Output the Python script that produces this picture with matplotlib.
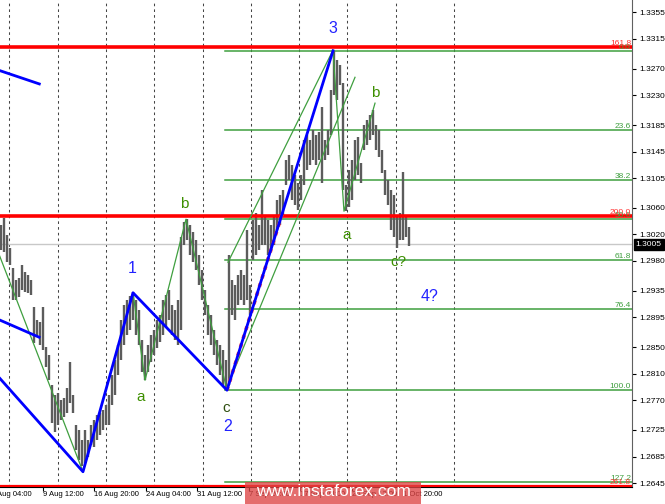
import matplotlib
matplotlib.use('Agg')
import matplotlib.pyplot as plt
from matplotlib.patches import Rectangle
import matplotlib.transforms as mtransforms

plt.rcParams['font.family'] = ['Liberation Sans', 'DejaVu Sans']

# ---- OHLC bar extremes (one bar per index) ----
highs = [1.3034, 1.3045, 1.3019, 1.3000, 1.2969, 1.2951, 1.2954, 1.2974, 1.2963, 1.2959,
         1.2951, 1.2911, 1.2891, 1.2888, 1.2911, 1.2850, 1.2838, 1.2793, 1.2778, 1.2781,
         1.2770, 1.2773, 1.2788, 1.2828, 1.2778, 1.2733, 1.2725, 1.2710, 1.2725, 1.2710,
         1.2733, 1.2740, 1.2748, 1.2751, 1.2755, 1.2763, 1.2778, 1.2808, 1.2831, 1.2853,
         1.2891, 1.2914, 1.2921, 1.2927, 1.2933, 1.2921, 1.2906, 1.2861, 1.2838, 1.2853,
         1.2868, 1.2876, 1.2891, 1.2899, 1.2921, 1.2929, 1.2936, 1.2914, 1.2906, 1.2921,
         1.3016, 1.3039, 1.3043, 1.3034, 1.3024, 1.3012, 1.2989, 1.2966, 1.2936, 1.2914,
         1.2899, 1.2876, 1.2861, 1.2853, 1.2846, 1.2831, 1.2989, 1.2951, 1.2944, 1.2959,
         1.2966, 1.2959, 1.3027, 1.2944, 1.3042, 1.3052, 1.3034, 1.3087, 1.3049, 1.3042,
         1.3034, 1.3049, 1.3072, 1.3079, 1.3087, 1.3132, 1.3140, 1.3125, 1.3110, 1.3098,
         1.3110, 1.3162, 1.3170, 1.3162, 1.3178, 1.3170, 1.3175, 1.3212, 1.3162, 1.3178,
         1.3238, 1.3297, 1.3283, 1.3276, 1.3248, 1.3095, 1.3117, 1.3132, 1.3162, 1.3167,
         1.3128, 1.3185, 1.3193, 1.3200, 1.3208, 1.3185, 1.3178, 1.3147, 1.3117, 1.3102,
         1.3087, 1.3080, 1.3049, 1.3052, 1.3114, 1.3049, 1.3031]
lows = [1.2997, 1.2994, 1.2978, 1.2974, 1.2921, 1.2921, 1.2926, 1.2936, 1.2933, 1.2932,
        1.2929, 1.2856, 1.2865, 1.2853, 1.2846, 1.2820, 1.2800, 1.2736, 1.2722, 1.2733,
        1.2740, 1.2745, 1.2751, 1.2766, 1.2751, 1.2695, 1.2680, 1.2671, 1.2675, 1.2684,
        1.2702, 1.2699, 1.2710, 1.2718, 1.2725, 1.2733, 1.2733, 1.2763, 1.2778, 1.2808,
        1.2831, 1.2853, 1.2868, 1.2876, 1.2891, 1.2868, 1.2853, 1.2813, 1.2800, 1.2813,
        1.2828, 1.2838, 1.2849, 1.2858, 1.2868, 1.2880, 1.2891, 1.2868, 1.2861, 1.2853,
        1.2876, 1.3004, 1.3012, 1.2989, 1.2978, 1.2966, 1.2944, 1.2921, 1.2899, 1.2868,
        1.2853, 1.2838, 1.2823, 1.2808, 1.2793, 1.2785, 1.2793, 1.2899, 1.2891, 1.2914,
        1.2921, 1.2914, 1.2921, 1.2899, 1.2982, 1.2989, 1.2997, 1.3004, 1.3004, 1.2989,
        1.2997, 1.3004, 1.3027, 1.3034, 1.3049, 1.3095, 1.3102, 1.3072, 1.3064, 1.3057,
        1.3072, 1.3095, 1.3117, 1.3125, 1.3132, 1.3125, 1.3132, 1.3098, 1.3132, 1.3140,
        1.3170, 1.3230, 1.3223, 1.3245, 1.3087, 1.3055, 1.3061, 1.3072, 1.3102, 1.3110,
        1.3098, 1.3147, 1.3155, 1.3162, 1.3170, 1.3147, 1.3137, 1.3113, 1.3080, 1.3064,
        1.3027, 1.3016, 1.3000, 1.3012, 1.3012, 1.3016, 1.3003]
last_price = 1.3005

# ---- wave lines (bar index, price) ----
blue_main_x = [-1, 27.33, 44, 75.33, 110.67]
blue_main_y = [1.2806, 1.2662, 1.2932, 1.2785, 1.3297]
blue_seg1_x = [-1, 12.77]
blue_seg1_y = [1.3268, 1.3247]
blue_seg2_x = [-1, 12.67]
blue_seg2_y = [1.2892, 1.2865]
green_zig1_x = [-1, 27.33, 44, 48, 61.67, 75.33]
green_zig1_y = [1.2994, 1.2662, 1.2932, 1.2800, 1.3043, 1.2785]
green_zig2_x = [110.67, 114.33, 124.67]
green_zig2_y = [1.3297, 1.3055, 1.3218]
chan_up_x = [75.67, 110.67]
chan_up_y = [1.2978, 1.3298]
chan_lo_x = [75.67, 118]
chan_lo_y = [1.2793, 1.3257]
red_dot_x = [75.33, 94]
red_dot_y = [1.2785, 1.3055]

# ---- fibonacci levels ----
fib_levels = [0.0, 23.6, 38.2, 50.0, 61.8, 76.4, 100.0, 127.2]
fib_prices = [1.3297, 1.3178, 1.3102, 1.3043, 1.2982, 1.2908, 1.2785, 1.2647]
fib_start = 74.67
red_levels = [161.8, 200.0, 261.8]
red_prices = [1.3302, 1.3048, 1.2641]
red_widths = [2.6, 2.6, 1.6]

# ---- wave labels ----
blue_labels = [("3", 110.67, 1.3331), ("1", 43.67, 1.2969), ("2", 75.67, 1.2730), ("4?", 143.0, 1.2927)]
green_labels = [("b", 61.0, 1.3066), ("a", 46.67, 1.2775), ("a", 115.33, 1.3019),
                ("b", 124.67, 1.3233), ("c?", 132.33, 1.2978)]
dark_labels = [("c", 75.0, 1.2758)]

# ---- axes ticks ----
y_ticks = [1.3355, 1.3315, 1.3270, 1.3230, 1.3185, 1.3145, 1.3105, 1.3060, 1.3020,
           1.2980, 1.2935, 1.2895, 1.2850, 1.2810, 1.2770, 1.2725, 1.2685, 1.2645]
x_tick_pos = [-3.17, 14, 31, 48.33, 65.33, 82.67, 99.67, 117, 134]
x_tick_labels = ["2 Aug 04:00", "9 Aug 12:00", "16 Aug 20:00", "24 Aug 04:00", "31 Aug 12:00",
                 "7 Sep 20:00", "17 Sep 04:00", "24 Sep 12:00", "1 Oct 20:00"]
v_grid = [2.77, 18.87, 35, 51, 67.17, 83.33, 99.33, 115.5, 131.67, 151]

W, H = 665, 504
fig = plt.figure(figsize=(W / 100, H / 100), dpi=100)
ax = fig.add_axes([0, 17 / H, 632 / W, 487 / H])

for xv in v_grid:
    ax.axvline(xv, color='#444444', lw=0.75, ls=(0, (2.5, 3)), zorder=1)

ax.axhline(last_price, color='#c8c8c8', lw=1, zorder=1)

xs = list(range(len(highs)))
ax.vlines(xs, lows, highs, color='#5c5c5c', lw=1.7, zorder=3)

gcol = '#3f9f3f'
for p in fib_prices:
    ax.plot([fib_start, 211], [p, p], color=gcol, lw=1.1, zorder=2)
for lv, p in zip(fib_levels, fib_prices):
    ax.text(630 / 3, p, f"{lv:.1f}", color='#3f9f3f', fontsize=6, ha='right', va='bottom', zorder=6)
for lv, p, w in zip(red_levels, red_prices, red_widths):
    ax.axhline(p, color='#ff0000', lw=w, zorder=4)
    ax.text(630 / 3, p, f"{lv:.1f}", color='#ff3030', fontsize=6, ha='right', va='bottom', zorder=6)

ax.plot(green_zig1_x, green_zig1_y, color=gcol, lw=0.9, zorder=4)
ax.plot(green_zig2_x, green_zig2_y, color=gcol, lw=0.9, zorder=4)
ax.plot(chan_up_x, chan_up_y, color=gcol, lw=0.9, zorder=4)
ax.plot(chan_lo_x, chan_lo_y, color=gcol, lw=0.9, zorder=4)
ax.plot(red_dot_x, red_dot_y, color='#ff4040', lw=2.6, ls=(0, (1, 1.5)), zorder=4)

bcol = '#0000ff'
ax.plot(blue_main_x, blue_main_y, color=bcol, lw=2, zorder=5)
ax.plot(blue_seg1_x, blue_seg1_y, color=bcol, lw=2, zorder=5)
ax.plot(blue_seg2_x, blue_seg2_y, color=bcol, lw=2, zorder=5)

for t, xv, yv in blue_labels:
    ax.text(xv, yv, t, color='#2222ff', fontsize=11.5, ha='center', va='center', zorder=7)
for t, xv, yv in green_labels:
    ax.text(xv, yv, t, color='#3d8f00', fontsize=11, ha='center', va='center', zorder=7)
for t, xv, yv in dark_labels:
    ax.text(xv, yv, t, color='#2f4f10', fontsize=11, ha='center', va='center', zorder=7)

# axes styling
for s in ['top', 'left']:
    ax.spines[s].set_visible(False)
ax.spines['right'].set_color('#606060')
ax.spines['bottom'].set_color('#000000')
ax.yaxis.tick_right()
ax.set_yticks(y_ticks)
ax.set_yticklabels([f"{v:.4f}" for v in y_ticks])
ax.tick_params(axis='y', length=3, width=0.8, pad=2, labelsize=6.0, colors='#000000')
ax.set_xticks(x_tick_pos[1:])
ax.set_xticklabels([])
ax.tick_params(axis='x', length=3, width=0.8)

# limits set after ticks so they are not expanded
ax.set_xlim(-1 / 3, 631 / 3)
ax.set_ylim(1.2639, 1.33736)

xlab_trans = mtransforms.blended_transform_factory(ax.transData, ax.transAxes)
for xp, lab in zip(x_tick_pos, x_tick_labels):
    ax.text(xp, -3.5 / 487, lab, transform=xlab_trans, fontsize=5.5, ha='left', va='top',
            clip_on=False, zorder=8)

# current price box
trans = mtransforms.blended_transform_factory(ax.transAxes, ax.transData)
ax.text(1.006, last_price, f"{last_price:.4f}", transform=trans, color='white', fontsize=6.0,
        ha='left', va='center', clip_on=False, zorder=8,
        bbox=dict(boxstyle='square,pad=0.25', fc='black', ec='black'))

# watermark
fig.add_artist(Rectangle((245 / W, 0), 176 / W, 22 / H, transform=fig.transFigure,
                         fc='#dd4444', ec='none', alpha=0.78, zorder=10))
fig.text(333 / W, 12 / H, "www.instaforex.com", color='white', fontsize=12.5,
         ha='center', va='center', zorder=11)

fig.savefig('out.png', dpi=100)
